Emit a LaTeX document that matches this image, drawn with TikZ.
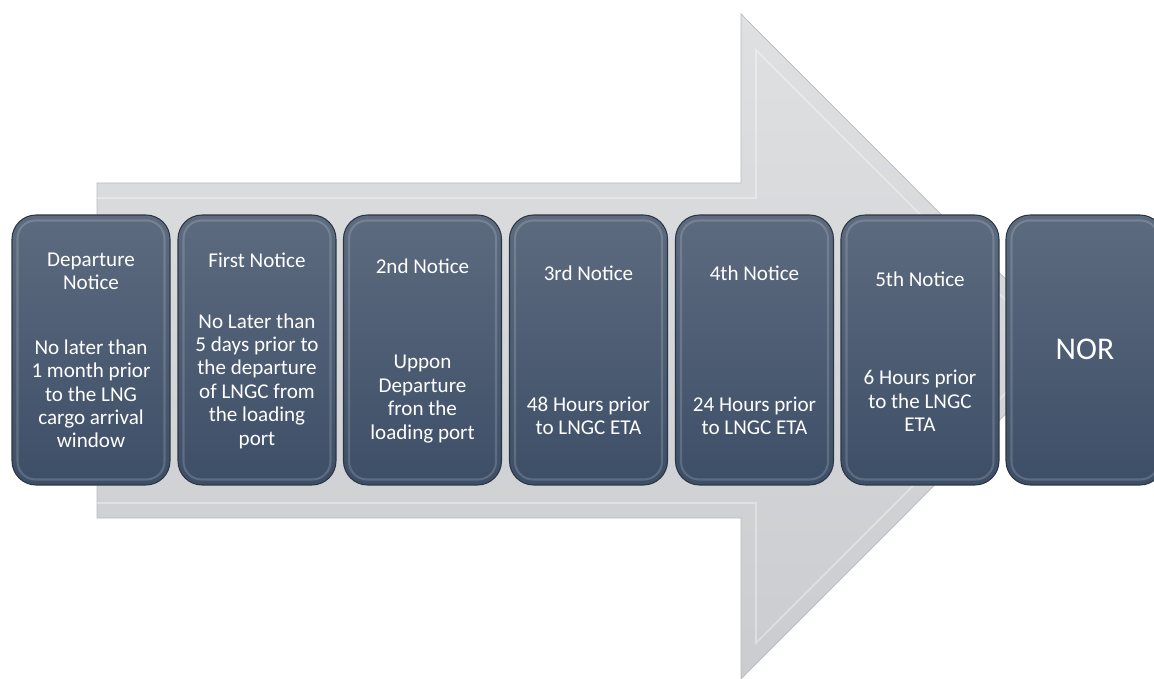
\documentclass[tikz,border=0pt]{standalone}
\usepackage{fontspec}
\setmainfont{Carlito}
\definecolor{boxtop}{HTML}{5D6B7F}
\definecolor{boxbot}{HTML}{3D4E67}
\definecolor{boxedge}{HTML}{2B3644}
\definecolor{arrowtop}{HTML}{DFE0E2}
\definecolor{arrowbot}{HTML}{CBCCCF}
\definecolor{arrowedge}{HTML}{B9BABD}
\begin{document}
\begin{tikzpicture}[x=0.02cm, y=-0.02cm,
    notice/.style={draw=boxedge, line width=0.6pt, rounded corners=0.48cm,
      top color=boxtop, bottom color=boxbot,
      minimum width=3.16cm, minimum height=5.4cm},
    bevel/.style={draw=white, opacity=0.16, line width=1.2pt, rounded corners=0.36cm},
    noticetxt/.style={text=white, align=center, font=\fontsize{12}{13.3}\selectfont}]
  \useasboundingbox (0,0) rectangle (1154,679);

  % big arrow in the back
  \draw[draw=arrowedge, top color=arrowtop, bottom color=arrowbot]
    (97,183) -- (741,183) -- (741,14) -- (1073,346.5) -- (741,679) -- (741,518) -- (97,518) -- cycle;
  \draw[white, opacity=0.35, line width=1pt]
    (97,198) -- (756,198) -- (756,50) -- (1052,346.5) -- (756,643) -- (756,503) -- (97,503);

  % notice boxes
  \node[notice] (dep) at (91,350) {};
  \node[notice] (first) at (257,350) {};
  \node[notice] (second) at (422.5,350) {};
  \node[notice] (third) at (588.5,350) {};
  \node[notice] (fourth) at (754.5,350) {};
  \node[notice] (fifth) at (920,350) {};
  \node[notice] (nor) at (1085,350) {};

  \foreach \b in {dep,first,second,third,fourth,fifth,nor}
    \draw[bevel] ([shift={(6,-6)}]\b.south west) rectangle ([shift={(-6,6)}]\b.north east);

  % texts
  \node[noticetxt] (depT) at (91,271) {Departure\\Notice};
  \node[noticetxt] (depB) at (91,394) {No later than\\1 month prior\\to the LNG\\cargo arrival\\window};

  \node[noticetxt] (firstT) at (257,260) {First Notice};
  \node[noticetxt] (firstB) at (257,381) {No Later than\\5 days prior to\\the departure\\of LNGC from\\the loading\\port};

  \node[noticetxt] (secondT) at (422.5,266) {2nd Notice};
  \node[noticetxt] (secondB) at (422.5,399) {Uppon\\Departure\\fron the\\loading port};

  \node[noticetxt] (thirdT) at (588.5,273) {3rd Notice};
  \node[noticetxt] (thirdB) at (588.5,416) {48 Hours prior\\to LNGC ETA};

  \node[noticetxt] (fourthT) at (754.5,273) {4th Notice};
  \node[noticetxt] (fourthB) at (754.5,416) {24 Hours prior\\to LNGC ETA};

  \node[noticetxt] (fifthT) at (920,279) {5th Notice};
  \node[noticetxt] (fifthB) at (920,401) {6 Hours prior\\to the LNGC\\ETA};

  \node[noticetxt, font=\fontsize{18}{20}\selectfont] (norT) at (1085,349) {NOR};

\end{tikzpicture}
\end{document}
